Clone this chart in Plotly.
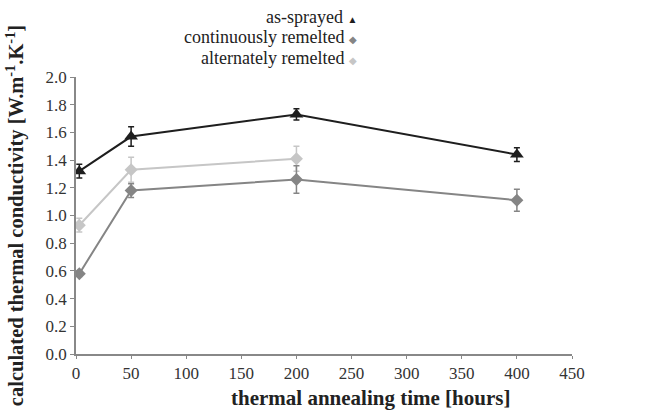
import plotly.graph_objects as go

hours_sprayed = [3, 50, 200, 400]
as_sprayed = [1.32, 1.57, 1.73, 1.44]
as_sprayed_err = [0.05, 0.07, 0.04, 0.05]

hours_cont = [3, 50, 200, 400]
continuous = [0.58, 1.18, 1.26, 1.11]
continuous_err = [0.02, 0.05, 0.10, 0.08]

hours_alt = [3, 50, 200]
alternate = [0.93, 1.33, 1.41]
alternate_err = [0.05, 0.09, 0.09]

x_ticks = [0, 50, 100, 150, 200, 250, 300, 350, 400, 450]
y_ticks = [0.0, 0.2, 0.4, 0.6, 0.8, 1.0, 1.2, 1.4, 1.6, 1.8, 2.0]

C_SPRAY = "#1e1e1e"
C_CONT = "#858585"
C_ALT = "#c6c6c6"
FONT = "Liberation Serif"

fig = go.Figure()


def add_series(x, y, err, color, symbol, size, name):
    fig.add_trace(go.Scatter(
        x=x, y=y, name=name, mode="lines+markers",
        line=dict(color=color, width=2),
        marker=dict(color=color, symbol=symbol, size=size),
        error_y=dict(type="data", array=err, color=color, thickness=1.5, width=3),
        showlegend=False,
    ))


add_series(hours_alt, alternate, alternate_err, C_ALT, "diamond", 10, "alternately remelted")
add_series(hours_cont, continuous, continuous_err, C_CONT, "diamond", 10, "continuously remelted")
add_series(hours_sprayed, as_sprayed, as_sprayed_err, C_SPRAY, "triangle-up", 12, "as-sprayed")

legend_rows = [
    ("as-sprayed", C_SPRAY, "▲"),
    ("continuously remelted", C_CONT, "◆"),
    ("alternately remelted", C_ALT, "◆"),
]
for i, (label, color, sym) in enumerate(legend_rows):
    ypix = 17 + 20.5 * i
    fig.add_annotation(
        xref="paper", yref="paper",
        x=(359 - 76) / 496, y=(354 - ypix) / 277,
        xanchor="right", yanchor="middle",
        text=f"{label} <span style='color:{color};font-size:10px'>{sym}</span>",
        showarrow=False,
        font=dict(family=FONT, size=18, color="#222222"),
    )

# x-axis title (placed to match the reference's off-centre position)
fig.add_annotation(
    xref="paper", yref="paper",
    x=(370 - 76) / 496, y=(354 - 398) / 277,
    xanchor="center", yanchor="middle",
    text="<b>thermal annealing time [hours]</b>",
    showarrow=False,
    font=dict(family=FONT, size=21, color="#222222"),
)

fig.update_layout(
    width=668, height=412,
    margin=dict(l=76, r=96, t=77, b=58),
    paper_bgcolor="white", plot_bgcolor="white",
    font=dict(family=FONT, size=17, color="#222222"),
    xaxis=dict(
        range=[0, 450], tickvals=x_ticks, ticktext=[str(v) for v in x_ticks],
        showgrid=False, zeroline=False, showline=True, linecolor="#888888", linewidth=1.5,
        ticks="outside", ticklen=3, tickcolor="#888888",
        tickfont=dict(family=FONT, size=17, color="#333333"),
    ),
    yaxis=dict(
        range=[0, 2.0], tickvals=y_ticks, ticktext=[f"{v:.1f}" for v in y_ticks],
        showgrid=False, zeroline=False, showline=True, linecolor="#888888", linewidth=1.5,
        ticks="outside", ticklen=4, tickcolor="#888888",
        title=dict(text="<b>calculated thermal conductivity [W.m<sup>-1</sup>.K<sup>-1</sup>]</b>",
                   font=dict(family=FONT, size=20.5, color="#222222"), standoff=16),
        tickfont=dict(family=FONT, size=17, color="#333333"),
    ),
)

fig.write_html("out.html")
